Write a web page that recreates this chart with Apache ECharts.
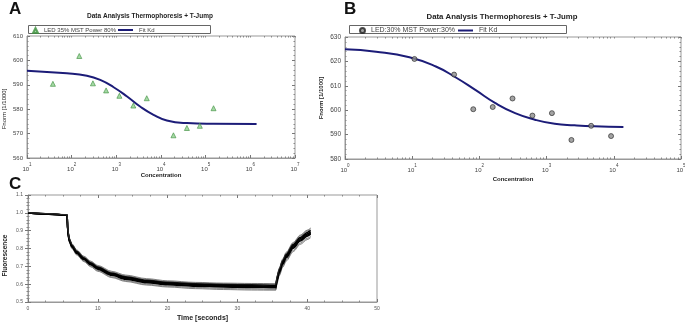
<!DOCTYPE html>
<html>
<head>
<meta charset="utf-8">
<script src="https://cdn.jsdelivr.net/npm/echarts@6/dist/echarts.min.js"></script>
<style>
html,body{margin:0;padding:0;background:#fff;}
#chart{width:685px;height:323px;}
</style>
</head>
<body>
<div id="chart"></div>
<script>
// panel A
const concA = [38, 148, 299, 590, 1170, 2400, 4800, 19000, 38000, 74000, 150000];
const fnormA = [590.4, 601.8, 590.6, 587.7, 585.5, 581.5, 584.5, 569.3, 572.3, 573.2, 580.4];
const fitConcA = [10, 78, 219, 436, 870, 1740, 3400, 6800, 13500, 38000, 148000, 1380000];
const fitA = [595.8, 594.7, 593.7, 592.0, 589.0, 585.2, 581.1, 577.7, 575.4, 574.3, 574.0, 573.9];
const decadesA = [10, 100, 1000, 10000, 100000, 1000000, 10000000];

// panel B
const concB = [10.8, 42, 81, 158, 311, 615, 1200, 2340, 4600, 9100];
const fnormB = [621.0, 614.6, 600.4, 601.3, 604.8, 597.8, 598.8, 587.8, 593.6, 589.4];
const fitConcB = [1, 2.9, 9.1, 22.5, 44, 87, 173, 340, 670, 1320, 2600, 5100, 13900];
const fitB = [625.0, 624.0, 621.7, 617.9, 613.5, 608.3, 602.9, 598.8, 596.1, 594.4, 593.8, 593.4, 593.1];
const decadesB = [1, 10, 100, 1000, 10000, 100000];

// panel C
const timeC = [0, 3, 5.6, 5.7, 5.9, 6.3, 7, 8, 9, 10, 12, 14, 17, 20, 24, 28, 32, 35.5, 35.7, 36, 36.5, 37, 38, 39, 40, 40.5];
const trace1 = [1.000, 0.994, 0.988, 0.900, 0.850, 0.815, 0.780, 0.745, 0.716, 0.692, 0.658, 0.637, 0.617, 0.606, 0.598, 0.594, 0.591, 0.589, 0.635, 0.675, 0.725, 0.760, 0.815, 0.855, 0.882, 0.893];
const trace2 = [1.001, 0.995, 0.989, 0.905, 0.856, 0.822, 0.787, 0.752, 0.724, 0.700, 0.667, 0.646, 0.626, 0.614, 0.606, 0.602, 0.600, 0.599, 0.645, 0.686, 0.737, 0.773, 0.829, 0.870, 0.898, 0.910];
const trace3 = [1.002, 0.996, 0.990, 0.908, 0.860, 0.826, 0.791, 0.757, 0.729, 0.705, 0.672, 0.651, 0.631, 0.619, 0.610, 0.606, 0.604, 0.603, 0.650, 0.692, 0.742, 0.779, 0.834, 0.875, 0.903, 0.915];
const trace4 = [0.999, 0.993, 0.987, 0.895, 0.844, 0.809, 0.773, 0.738, 0.709, 0.684, 0.650, 0.628, 0.608, 0.597, 0.589, 0.585, 0.582, 0.580, 0.624, 0.664, 0.713, 0.748, 0.802, 0.842, 0.869, 0.880];
const trace5 = [0.999, 0.993, 0.986, 0.890, 0.838, 0.803, 0.767, 0.731, 0.702, 0.677, 0.642, 0.620, 0.600, 0.589, 0.581, 0.576, 0.573, 0.571, 0.614, 0.654, 0.702, 0.737, 0.790, 0.830, 0.857, 0.868];
const trace6 = [0.998, 0.992, 0.986, 0.888, 0.835, 0.799, 0.763, 0.727, 0.697, 0.672, 0.637, 0.615, 0.595, 0.584, 0.575, 0.570, 0.567, 0.566, 0.608, 0.647, 0.695, 0.730, 0.783, 0.823, 0.850, 0.861];
const trace7 = [1.000, 0.994, 0.988, 0.902, 0.853, 0.818, 0.783, 0.748, 0.720, 0.696, 0.662, 0.641, 0.621, 0.610, 0.602, 0.598, 0.596, 0.594, 0.640, 0.681, 0.731, 0.767, 0.822, 0.862, 0.890, 0.901];
const trace8 = [1.000, 0.993, 0.987, 0.897, 0.847, 0.812, 0.776, 0.741, 0.712, 0.688, 0.654, 0.632, 0.612, 0.601, 0.593, 0.589, 0.586, 0.585, 0.630, 0.670, 0.719, 0.754, 0.808, 0.848, 0.875, 0.886];
const tracesC = [trace6, trace5, trace4, trace8, trace1, trace7, trace2, trace3];

const FONT = 'Liberation Sans, Arial, sans-serif';
const LEGEND_A = 'LED 35% MST Power 80%';
const LEGEND_B = 'LED:30% MST Power:30%';

function minorOf(decades) {
  const out = [];
  decades.slice(0, -1).forEach(d => { for (let k = 2; k <= 9; k++) out.push(d * k); });
  return out;
}

const zip = (xs, ys) => xs.map((x, i) => [x, ys[i]]);

const myChart = echarts.init(document.getElementById('chart'));

function logAxis(grid, decades, pos, opts) {
  return Object.assign({
    type: 'log', logBase: 10, gridIndex: grid, position: pos,
    min: decades[0], max: decades[decades.length - 1],
    axisLine: {show: true, lineStyle: {color: '#999'}},
    splitLine: {show: false},
    axisTick: {show: true, inside: true, length: 3, lineStyle: {color: '#777'}},
    axisLabel: {show: false},
    nameMoveOverlap: false
  }, opts);
}

function valAxis(grid, pos, min, max, interval, opts) {
  return Object.assign({
    type: 'value', gridIndex: grid, position: pos, min: min, max: max, interval: interval,
    axisLine: {show: true, lineStyle: {color: '#999'}},
    splitLine: {show: false},
    axisTick: {show: true, inside: true, length: 3, lineStyle: {color: '#777'}},
    minorTick: {show: true, splitNumber: 5, length: 1.5, lineStyle: {color: '#888'}},
    axisLabel: {show: false},
    nameMoveOverlap: false
  }, opts);
}

const logLabel = {
  show: true, margin: 4, color: '#444',
  formatter: v => '{b|10}{e|' + Math.round(Math.log10(v)) + '}',
  rich: {
    b: {fontSize: 6, fontFamily: FONT, color: '#444', lineHeight: 10, verticalAlign: 'bottom'},
    e: {fontSize: 4.5, fontFamily: FONT, color: '#444', lineHeight: 10, verticalAlign: 'top'}
  }
};

const nameStyle = {fontSize: 6, fontWeight: 'bold', fontFamily: FONT, color: '#222'};

function legendPart(item, left, width, height, fontSize) {
  return {data: [item], left: left, top: 27, padding: 0, itemGap: 0, itemWidth: width, itemHeight: height,
          textStyle: {fontSize: fontSize, fontFamily: FONT, color: '#444', padding: [0, 0, 0, 1]}};
}

const option = {
  animation: false,
  backgroundColor: '#fff',
  grid: [
    {left: 27, top: 36, width: 268, height: 122, show: true, borderColor: '#999', borderWidth: 1, containLabel: false, outerBoundsMode: 'none'},
    {left: 345, top: 37, width: 336, height: 122, show: true, borderColor: '#999', borderWidth: 1, containLabel: false, outerBoundsMode: 'none'},
    {left: 28, top: 195, width: 349, height: 107, show: true, borderColor: '#999', borderWidth: 1, containLabel: false, outerBoundsMode: 'none'}
  ],
  xAxis: [
    // A
    logAxis(0, decadesA, 'bottom', {axisLabel: logLabel, name: 'Concentration', nameLocation: 'middle', nameGap: 14, nameTextStyle: nameStyle}),
    logAxis(0, decadesA, 'bottom', {axisLine: {show: false}, axisTick: {show: true, inside: true, length: 1.5, customValues: minorOf(decadesA), lineStyle: {color: '#888'}}}),
    logAxis(0, decadesA, 'top', {axisLine: {show: false}, axisTick: {show: true, inside: true, length: 1.5, customValues: minorOf(decadesA).concat(decadesA), lineStyle: {color: '#888'}}}),
    // B
    logAxis(1, decadesB, 'bottom', {axisLabel: logLabel, name: 'Concentration', nameLocation: 'middle', nameGap: 17, nameTextStyle: nameStyle}),
    logAxis(1, decadesB, 'bottom', {axisLine: {show: false}, axisTick: {show: true, inside: true, length: 1.5, customValues: minorOf(decadesB), lineStyle: {color: '#888'}}}),
    logAxis(1, decadesB, 'top', {axisLine: {show: false}, axisTick: {show: true, inside: true, length: 1.5, customValues: minorOf(decadesB).concat(decadesB), lineStyle: {color: '#888'}}}),
    // C
    valAxis(2, 'bottom', 0, 50, 10, {
      minorTick: {show: true, splitNumber: 4, length: 1.5, lineStyle: {color: '#888'}},
      axisLabel: {show: true, fontSize: 5, fontFamily: FONT, color: '#555', margin: 4},
      name: 'Time [seconds]', nameLocation: 'middle', nameGap: 13,
      nameTextStyle: {fontSize: 7, fontWeight: 'bold', fontFamily: FONT, color: '#222'}
    }),
    valAxis(2, 'top', 0, 50, 10, {axisLine: {show: false}, minorTick: {show: true, splitNumber: 4, length: 1.5, lineStyle: {color: '#888'}}})
  ],
  yAxis: [
    valAxis(0, 'left', 560, 610, 10, {
      axisLabel: {show: true, fontSize: 6, fontFamily: FONT, color: '#444', margin: 4},
      name: 'Fnorm [1/1000]', nameLocation: 'middle', nameGap: 20, nameTextStyle: {fontSize: 6, fontFamily: FONT, color: '#222', padding: [0, 0, 0, -24]}
    }),
    valAxis(0, 'right', 560, 610, 10, {axisLine: {show: false}}),
    valAxis(1, 'left', 580, 630, 10, {
      axisLabel: {show: true, fontSize: 6.5, fontFamily: FONT, color: '#444', margin: 4},
      name: 'Fnorm [1/1000]', nameLocation: 'middle', nameGap: 21, nameTextStyle: {fontSize: 6, fontWeight: 'bold', fontFamily: FONT, color: '#222'}
    }),
    valAxis(1, 'right', 580, 630, 10, {axisLine: {show: false}}),
    valAxis(2, 'left', 0.5, 1.1, 0.1, {
      axisLabel: {show: true, fontSize: 5, fontFamily: FONT, color: '#555', margin: 5, formatter: v => v.toFixed(1)},
      name: 'Fluorescence', nameLocation: 'middle', nameGap: 19, nameTextStyle: {fontSize: 6.5, fontWeight: 'bold', fontFamily: FONT, color: '#222', padding: [0, 0, 0, -14]}
    }),
    valAxis(2, 'right', 0.5, 1.1, 0.1, {axisLine: {show: false}})
  ],
  title: [
    {text: 'Data Analysis Thermophoresis + T-Jump', left: 150, top: 13, textAlign: 'center', padding: 0,
     textStyle: {fontSize: 6.5, fontWeight: 'bold', fontFamily: FONT, color: '#222'}},
    {text: 'Data Analysis Thermophoresis + T-Jump', left: 502, top: 13, textAlign: 'center', padding: 0,
     textStyle: {fontSize: 7.8, fontWeight: 'bold', fontFamily: FONT, color: '#222'}}
  ],
  legend: [
    legendPart(LEGEND_A, 32, 5, 5, 6),
    legendPart({name: 'Fit Kd', icon: 'rect'}, 118, 15, 2, 6),
    legendPart(LEGEND_B, 359, 5, 5, 7),
    legendPart({name: 'Fit Kd', icon: 'rect'}, 458, 15, 2, 7)
  ],
  graphic: [
    {type: 'rect', z: 1, shape: {x: 28.5, y: 25.5, width: 182, height: 8}, style: {fill: '#fff', stroke: '#666', lineWidth: 1}},
    {type: 'rect', z: 1, shape: {x: 349.5, y: 25.5, width: 217, height: 8}, style: {fill: '#fff', stroke: '#666', lineWidth: 1}},
    {type: 'text', left: 9, top: 1, style: {text: 'A', font: 'bold 17px ' + FONT, fill: '#111'}},
    {type: 'text', left: 344, top: 1, style: {text: 'B', font: 'bold 17px ' + FONT, fill: '#111'}},
    {type: 'text', left: 9, top: 176, style: {text: 'C', font: 'bold 17px ' + FONT, fill: '#111'}}
  ],
  series: [
    {name: 'Fit Kd', type: 'line', xAxisIndex: 0, yAxisIndex: 0, data: zip(fitConcA, fitA), smooth: 0.5,
     showSymbol: false, symbol: 'none', lineStyle: {color: '#1c1c78', width: 2}, itemStyle: {color: '#1c1c78'}, z: 3},
    {name: LEGEND_A, type: 'scatter', xAxisIndex: 0, yAxisIndex: 0, data: zip(concA, fnormA), symbol: 'triangle', symbolSize: 5,
     itemStyle: {color: '#8fcf8f', borderColor: '#3f8f3f', borderWidth: 0.8}, z: 4},
    {name: 'Fit Kd', type: 'line', xAxisIndex: 3, yAxisIndex: 2, data: zip(fitConcB, fitB), smooth: 0.5,
     showSymbol: false, symbol: 'none', lineStyle: {color: '#1c1c78', width: 2}, itemStyle: {color: '#1c1c78'}, z: 3},
    {name: LEGEND_B, type: 'scatter', xAxisIndex: 3, yAxisIndex: 2, data: zip(concB, fnormB), symbol: 'circle', symbolSize: 5,
     itemStyle: {color: '#8c8c8c', borderColor: '#222', borderWidth: 0.8}, z: 4}
  ].concat(tracesC.map((tr, i) => ({
    type: 'line', xAxisIndex: 6, yAxisIndex: 4, data: zip(timeC, tr),
    smooth: 0.3, smoothMonotone: 'x', showSymbol: false, symbol: 'none',
    lineStyle: {color: (i >= 2 && i <= 5) ? '#000' : '#333', width: (i >= 2 && i <= 5) ? 1.6 : 0.6}
  })))
};

myChart.setOption(option);
</script>
</body>
</html>
